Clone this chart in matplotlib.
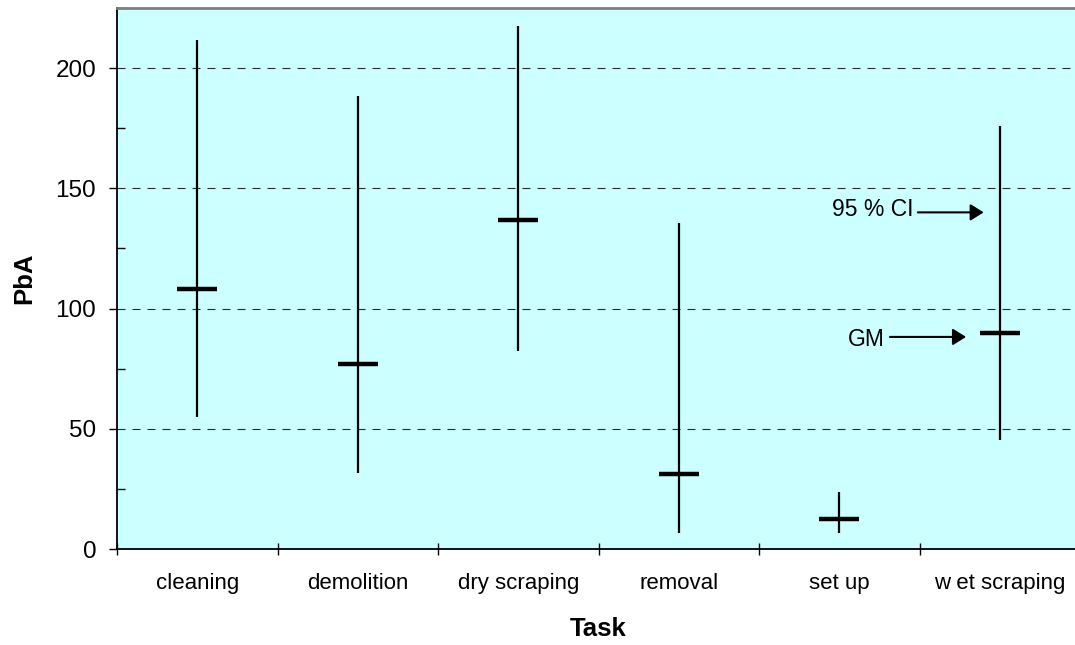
import numpy as np
import matplotlib
matplotlib.use("Agg")
from matplotlib import pyplot as plt

plt.rcParams['font.family'] = ['Liberation Sans', 'DejaVu Sans']

tasks = ["cleaning", "demolition", "dry scraping", "removal", "set up", "w et scraping"]
gm = [108, 77, 137, 31, 12.5, 90]
ci_low = [55, 31.5, 82.5, 6.5, 6.5, 45.5]
ci_high = [211.5, 188.5, 217.5, 135.5, 23.5, 176]

x = np.arange(len(tasks)) + 0.5

fig = plt.figure(figsize=(10.75, 6.45), dpi=100)
ax = fig.add_axes([117/1075, 1 - 549/645, 963/1075, 541/645])
ax.set_facecolor("#ccffff")

ax.set_xlim(0, 6)
ax.set_ylim(0, 225)

# dashed gridlines
for yv in [50, 100, 150, 200]:
    ax.axhline(yv, color="#2b2b2b", lw=0.8, ls=(0, (7.2, 6.3)), zorder=1)

# 95% CI lines and GM bars
ax.vlines(x, ci_low, ci_high, color="black", lw=1.6, zorder=3)
ax.hlines(gm, x - 0.125, x + 0.125, color="black", lw=3.2, zorder=4)

# ticks
ax.set_yticks([0, 50, 100, 150, 200])
ax.set_yticks([25, 75, 125, 175, 225], minor=True)
ax.tick_params(axis="y", which="major", direction="out", length=6, width=1, labelsize=17.5, pad=9)
ax.tick_params(axis="y", which="minor", direction="in", length=5.5, width=1)

ax.set_xticks(np.arange(0, 7))
ax.set_xticklabels([])
ax.set_xticks(x, minor=True)
ax.set_xticklabels(tasks, minor=True)
ax.tick_params(axis="x", which="major", direction="inout", length=9, width=1)
ax.tick_params(axis="x", which="minor", length=0, labelsize=16, pad=17)

for s in ["left", "bottom"]:
    ax.spines[s].set_color("black")
    ax.spines[s].set_linewidth(1.3)
ax.spines["top"].set_color("#7f7f7f")
ax.spines["top"].set_linewidth(2)
ax.spines["right"].set_visible(False)

ax.set_xlabel("Task", fontsize=18.5, fontweight="bold", labelpad=17)
ax.set_ylabel("PbA", fontsize=18.5, fontweight="bold", labelpad=14)

# annotations
arrow = dict(arrowstyle="-|>,head_length=0.8,head_width=0.5", color="black", lw=1.5, shrinkA=0, shrinkB=0)
ax.text(4.96, 141, "95 % CI", ha="right", va="center", fontsize=16.5)
ax.annotate("", xy=(5.40, 140), xytext=(4.99, 140), arrowprops=arrow)
ax.text(4.785, 87, "GM", ha="right", va="center", fontsize=16.5)
ax.annotate("", xy=(5.29, 88.2), xytext=(4.816, 88.2), arrowprops=arrow)

plt.savefig("out.png", dpi=100)
